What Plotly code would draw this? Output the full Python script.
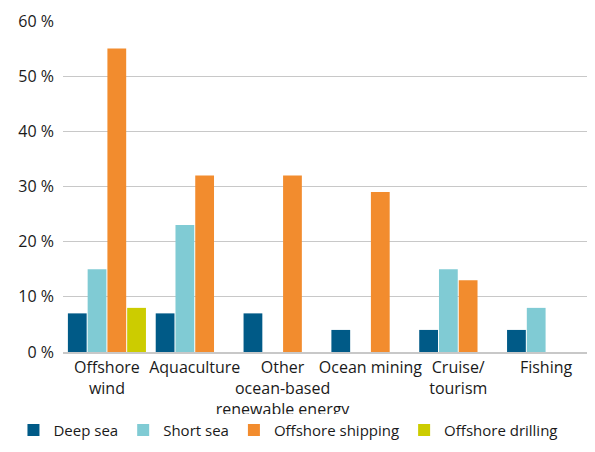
import plotly.graph_objects as go

categories = [
    "Offshore<br>wind",
    "Aquaculture",
    "Other<br>ocean-based<br>renewable energy",
    "Ocean mining",
    "Cruise/<br>tourism",
    "Fishing",
]
deep_sea = [7, 7, 7, 4, 4, 4]
short_sea = [15, 23, 0, 0, 15, 8]
offshore_shipping = [55, 32, 32, 29, 13, 0]
offshore_drilling = [8, 0, 0, 0, 0, 0]
tick_vals = [0, 10, 20, 30, 40, 50, 60]
tick_text = ["0 %", "10 %", "20 %", "30 %", "40 %", "50 %", "60 %"]

series = [
    ("Deep sea", deep_sea, "#005a87"),
    ("Short sea", short_sea, "#80cbd4"),
    ("Offshore shipping", offshore_shipping, "#f28c2e"),
    ("Offshore drilling", offshore_drilling, "#cccc00"),
]

fig = go.Figure()
for name, vals, color in series:
    fig.add_trace(go.Bar(name=name, x=categories, y=vals, marker=dict(color=color, line=dict(width=0))))

# page body has an 8px default margin, so the figure is sized/offset to compensate
fig.update_layout(
    barmode="group",
    bargap=0.1,
    bargroupgap=0.05,
    plot_bgcolor="white",
    paper_bgcolor="white",
    width=587,
    height=444,
    margin=dict(l=50, r=5, t=13, b=100),
    font=dict(family="Open Sans", size=15, color="#1a1a1a"),
    showlegend=True,
    legend=dict(
        orientation="h",
        x=-0.094,
        xanchor="left",
        y=-0.286,
        yanchor="bottom",
        font=dict(size=15),
        itemwidth=30,
        traceorder="normal",
    ),
)
fig.update_xaxes(
    automargin=False,
    showgrid=False,
    showline=True,
    linecolor="#c8c8c8",
    linewidth=2,
    ticks="",
    tickangle=0,
    tickfont=dict(size=16),
)
fig.update_yaxes(
    automargin=False,
    range=[0, 60],
    tickvals=tick_vals,
    ticktext=tick_text,
    showgrid=True,
    gridcolor="#c8c8c8",
    gridwidth=1,
    zeroline=False,
    showline=False,
    ticks="",
    ticklabelstandoff=8,
    tickfont=dict(size=16),
)

fig.write_html("out.html")
